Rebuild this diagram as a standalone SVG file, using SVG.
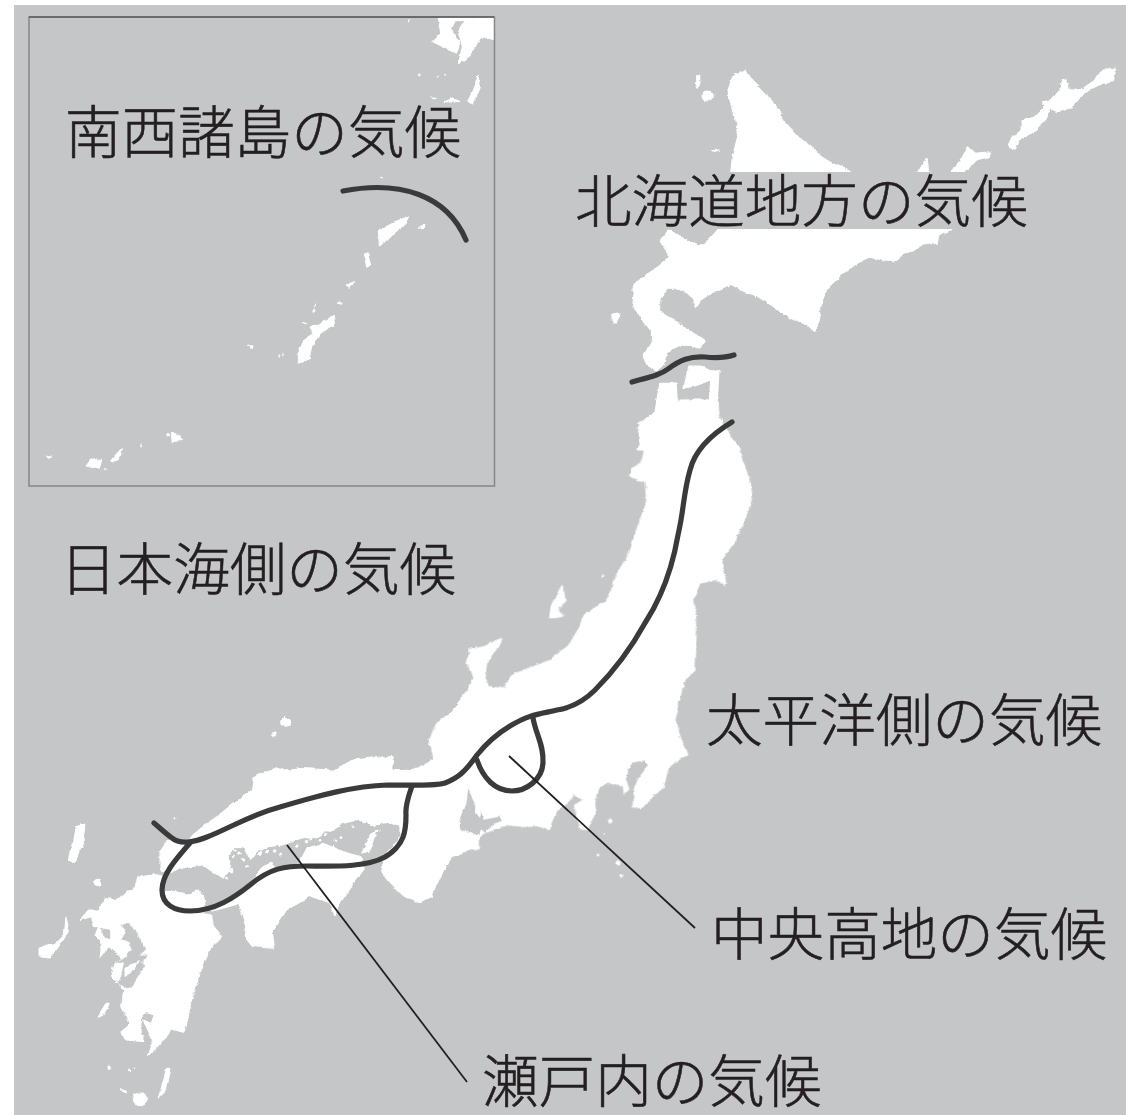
<svg xmlns="http://www.w3.org/2000/svg" width="1126" height="1115" viewBox="0 0 1126 1115">
<style>
.land{fill:#fff;stroke:#fff;stroke-width:3;stroke-linejoin:round}
.land .sea{fill:#c5c6c8;stroke:#c5c6c8;stroke-width:1}
.bold{fill:none;stroke:#3a3a3a;stroke-width:5.2;stroke-linecap:round;stroke-linejoin:round}
.lead{fill:none;stroke:#231f20;stroke-width:1.8}
text{font-family:"Noto Sans CJK JP","Noto Sans",sans-serif;font-size:56.6px;font-weight:300;fill:#231f20;stroke:#231f20;stroke-width:.55}
</style>
<defs>
<clipPath id="ic"><rect x="29" y="17" width="465.5" height="469"/></clipPath>
<filter id="coast" filterUnits="userSpaceOnUse" x="0" y="0" width="1126" height="1115">
<feTurbulence type="fractalNoise" baseFrequency="0.045" numOctaves="2" seed="4" result="low"/>
<feDisplacementMap in="SourceGraphic" in2="low" scale="5" xChannelSelector="R" yChannelSelector="G" result="a"/>
<feTurbulence type="fractalNoise" baseFrequency="0.28" numOctaves="2" seed="9" result="hi"/>
<feDisplacementMap in="a" in2="hi" scale="2.6" xChannelSelector="G" yChannelSelector="R" result="b"/>
<feGaussianBlur in="b" stdDeviation="0.55"/>
</filter>
</defs>
<rect width="1126" height="1115" fill="#fff"/>
<rect x="14" y="5" width="1112" height="1110" fill="#c5c6c8"/>
<g id="inset-map" clip-path="url(#ic)"><g filter="url(#coast)"><g transform="translate(20,0) scale(.3333)" class="land">
<polygon points="1255,50 1430,50 1430,122 1385,108 1372,130 1350,165 1315,192 1328,140 1315,95 1335,62 1305,62 1292,88 1320,128 1308,160 1275,145 1235,125 1262,100"/>
<polygon points="1375,225 1378,260 1355,312 1345,305 1360,260"/>
<polygon points="1272,305 1295,295 1320,308"/><polygon points="1232,288 1252,295 1240,297"/>
<circle cx="1198" cy="222" r="3"/><circle cx="1255" cy="230" r="2"/><circle cx="1275" cy="228" r="2"/><polygon points="1162,70 1172,58 1168,70"/>
<polygon points="1075,690 1125,665 1165,650 1160,670 1125,695 1095,725 1078,738"/>
<polygon points="1198,688 1212,672 1210,685"/>
<polygon points="1033,762 1045,758 1055,795 1040,802"/>
<polygon points="975,855 1005,845 985,862"/>
<circle cx="958" cy="910" r="5"/><polygon points="880,920 888,908 885,920"/><circle cx="882" cy="932" r="3"/>
<polygon points="940,945 943,975 905,1000 890,1020 875,1040 868,1075 835,1087 835,1050 850,1020 880,1000 870,985 900,975"/>
<polygon points="850,968 865,970 860,974"/>
<polygon points="688,1032 702,1038 700,1046"/>
<circle cx="775" cy="1067" r="2"/><circle cx="788" cy="1065" r="2"/>
<polygon points="437,1303 445,1300 450,1306 443,1308"/><polygon points="455,1296 485,1322 456,1325"/>
<circle cx="365" cy="1335" r="3"/><polygon points="80,1367 95,1368 85,1372"/>
<polygon points="308,1345 297,1380 270,1388 285,1370"/>
<polygon points="215,1376 245,1385 238,1408 198,1398"/>
<circle cx="255" cy="1408" r="2"/>
<circle cx="1083" cy="533" r="1.5"/>
</g></g></g>
<rect x="29" y="17" width="465.5" height="469" fill="none" stroke="#85868a" stroke-width="1.5"/>
<line x1="29" y1="17" x2="494" y2="17" stroke="#3f3f40" stroke-width="1.2"/>

<g id="map" filter="url(#coast)">
<g transform="translate(600,50) scale(.3355,.3333)" class="land">
<polygon id="hokkaido" points="395,80 430,62 445,85 480,120 530,175 550,215 600,270 660,320 700,345 750,366 850,390 945,366 975,325 980,366 985,420 1000,480 1040,537 1010,555 1005,580 960,585 935,605 900,615 880,632 845,630 800,622 770,635 720,670 680,710 655,770 655,810 640,848 615,825 560,795 510,770 460,735 430,725 390,703 340,725 300,750 285,772 275,745 240,715 200,715 178,750 178,785 210,805 250,825 275,850 315,875 300,895 240,885 200,905 190,945 165,965 140,950 128,915 150,875 150,840 120,800 95,770 100,700 155,665 210,620 180,570 205,540 260,570 310,585 350,540 390,366 395,320 410,260 405,210 378,130"/>
<polygon points="285,78 297,75 298,100 292,115 285,100"/><circle cx="322" cy="138" r="15"/>
<polygon points="38,793 58,788 48,823 40,820"/>
<polygon points="335,305 355,303 345,307"/>
<polygon id="kunashiri" points="1020,537 1050,366 1095,290 1120,310 1165,305 1160,320 1120,330 1085,365 1045,537"/>
<polygon id="etorofu" points="1320,155 1345,150 1375,115 1378,85 1392,88 1395,118 1440,115 1470,95 1490,65 1510,53 1537,58 1530,95 1500,100 1445,125 1405,170 1370,188 1340,172 1335,205 1290,245 1255,265 1235,300 1217,295 1232,262 1255,240 1255,215 1290,205 1320,175"/>
<polygon id="tohoku-n" points="265,945 300,945 330,965 355,965 350,1050 345,1100 370,1130 415,1200 300,1200 110,1200 120,1180 110,1130 160,1090 170,1030 180,1000 210,1000 230,1000 235,1075 260,1075 275,1050 300,1075 325,1060 330,990 275,1010 250,1015"/>
</g>
<g transform="translate(400,400) scale(.3333)" class="land">
<polygon id="honshu-e" points="785,0 770,40 715,70 720,100 735,140 725,190 690,210 690,230 735,245 740,300 725,350 700,420 680,470 650,520 640,560 620,600 560,640 540,680 510,730 450,780 400,800 330,825 315,860 265,860 255,830 260,790 300,735 305,715 260,735 215,745 200,785 215,830 205,870 160,935 110,970 85,1020 100,1080 40,1110 0,1110 0,1420 120,1420 130,1400 150,1375 200,1355 235,1350 235,1310 255,1295 320,1275 380,1280 420,1277 445,1290 470,1230 505,1205 525,1185 550,1200 520,1215 530,1255 545,1285 565,1285 570,1269 591,1230 585,1200 594,1164 630,1149 666,1155 669,1179 684,1170 675,1140 696,1086 735,1080 744,1095 711,1140 699,1170 705,1194 696,1221 726,1224 756,1191 789,1170 804,1104 840,1074 864,1065 825,960 855,840 885,810 890,670 878,600 900,550 945,540 975,560 965,480 1000,430 1030,380 1055,310 1045,220 1015,150 990,100 955,50 950,0"/>
<polygon points="490,555 495,600 470,625 490,645 445,655 450,620 470,590"/>
<polygon points="605,530 612,522 610,530"/>
<circle cx="633" cy="1263" r="6"/><circle cx="654" cy="1389" r="6"/><circle cx="666" cy="1428" r="4"/><circle cx="594" cy="1362" r="3"/><circle cx="612" cy="1305" r="1.5"/>
</g>
<g transform="translate(20,700) scale(.3333)" class="land">
<polygon id="honshu-w" points="1325,0 1400,0 1400,300 1440,300 1440,385 1385,385 1375,420 1290,470 1270,520 1235,590 1200,605 1150,590 1100,540 1085,510 1100,455 1120,435 1145,400 1140,375 1110,370 1060,375 1020,358 970,370 940,390 910,390 900,405 840,415 790,435 750,440 710,455 690,480 670,440 645,440 625,470 630,510 610,535 550,495 480,505 445,520 420,510 420,455 440,425 505,420 520,400 590,350 640,310 695,265 700,230 770,200 800,210 830,205 940,210 1000,180 1090,170 1120,170 1115,205 1195,210 1245,170 1230,130 1240,95"/>
<polygon points="1075,390 1052,402 1022,460 1045,452"/>
<polygon id="shikoku" points="1025,495 1020,470 960,450 910,430 860,445 835,495 765,505 760,485 720,505 700,535 640,590 590,615 530,635 590,630 655,612 672,650 680,680 675,710 700,740 760,745 755,700 800,630 870,590 925,610 945,645 960,610 1000,550 1030,510"/>
<circle cx="800" cy="67" r="15"/><circle cx="762" cy="101" r="7"/><circle cx="460" cy="355" r="2"/>
<polygon points="165,385 195,372 190,420 165,485 148,480"/>
<g>
<circle cx="660" cy="460" r="4"/><circle cx="670" cy="480" r="4"/><circle cx="640" cy="470" r="3"/><circle cx="650" cy="450" r="3"/><circle cx="680" cy="500" r="3"/><circle cx="635" cy="515" r="4"/><circle cx="620" cy="535" r="3"/><circle cx="720" cy="462" r="4"/><circle cx="745" cy="455" r="4"/><circle cx="770" cy="450" r="4"/><circle cx="785" cy="462" r="3"/><circle cx="830" cy="438" r="4"/><circle cx="860" cy="425" r="4"/><circle cx="900" cy="418" r="3"/><circle cx="915" cy="400" r="4"/><circle cx="960" cy="410" r="3"/><circle cx="945" cy="420" r="3"/><circle cx="1000" cy="378" r="2"/><circle cx="870" cy="415" r="3"/>
</g>
</g>
<g transform="translate(400,400) scale(.3333)" class="land">
<polygon class="sea" id="ise-bay" points="180,1265 200,1210 205,1170 225,1210 225,1235 240,1255 245,1230 250,1260 300,1250 305,1265 270,1280 255,1295 240,1285 230,1305 180,1285"/>
</g>
<g transform="translate(30,860) scale(.3333)" class="land">
<polygon id="kyushu" points="320,50 370,40 395,45 395,100 420,95 470,105 500,90 520,100 525,130 510,160 545,165 550,200 575,230 545,260 525,300 510,340 490,400 480,440 465,520 420,510 410,530 355,590 370,540 350,500 340,480 365,490 372,465 350,458 335,475 330,510 345,545 285,540 270,515 300,490 275,440 280,395 265,370 245,350 255,310 275,295 250,270 235,265 210,295 215,260 195,230 205,200 190,200 185,170 150,180 175,150 205,150 225,115 255,125 290,95 310,90"/>
<polygon class="sea" points="275,195 300,190 320,220 345,270 325,290 350,290 330,310 345,315 310,370 295,385 265,370 250,350 255,310 285,290 305,270 300,250 275,235 290,210"/>
<polygon class="sea" points="210,205 240,210 240,240 218,232"/>
<polygon points="255,312 280,305 272,350 262,362 248,350"/><polygon points="285,322 325,305 310,330 285,350"/>
<polygon id="goto" points="30,265 50,255 70,255 100,225 105,170 115,215 100,240 75,275 60,295 30,290"/>
<polygon points="200,470 225,430 235,430 220,460"/>
<circle cx="203" cy="66" r="11"/>
</g>
<g transform="translate(0,1030) scale(.3333)" class="land">
<ellipse cx="421" cy="205" rx="21" ry="19"/>
<polygon points="500,115 510,115 495,185 475,205 485,170"/>
<circle cx="327" cy="112" r="4"/><circle cx="385" cy="120" r="3"/><circle cx="405" cy="115" r="2"/><polygon points="360,176 380,185 375,188"/>
</g>
</g>
<rect id="label-band" x="570" y="172" width="470" height="57" fill="#c5c6c8"/>

<g id="connectors">
<path class="bold" d="M343,191 C400,180 447,195 466,240"/>
<path class="bold" d="M632,382 C650,377 660,375 668,369 C680,360 690,356 705,357 C715,358 725,358 734,355"/>
<path class="bold" d="M732,422 C712,434 695,450 690,470 C683,495 684,510 678,535 C672,570 660,600 645,623 C630,650 610,675 595,690 C582,703 570,708 557,710 C540,714 530,714 510,726 C495,735 485,745 477,755 C465,772 458,778 445,783 C435,786 420,785 387,785 C355,786 320,795 280,807 C250,815 230,828 207,837 C195,842 180,845 172,838 C165,833 160,828 154,823"/>
<path class="bold" d="M190,843 C175,860 162,875 162,890 C162,905 175,911 190,911 C215,911 235,897 250,885 C270,868 285,866 307,866 C330,866 365,868 385,857 C405,845 406,830 406,815 C405,805 409,795 412,786"/>
<path class="bold" d="M533,718 C536,735 544,745 543,763 C542,780 526,791 512,791 C495,791 483,778 477,760"/>
<line class="lead" x1="509" y1="756" x2="695" y2="928"/>
<line class="lead" x1="287" y1="845" x2="467" y2="1082"/>
</g>
<g id="labels">
<text id="l1" x="65" y="153">南西諸島の気候</text>
<text id="l2" x="575" y="222">北海道地方の気候</text>
<text id="l3" x="60" y="590">日本海側の気候</text>
<text id="l4" x="706" y="741">太平洋側の気候</text>
<text id="l5" x="711" y="955">中央高地の気候</text>
<text id="l6" x="482" y="1102">瀬戸内の気候</text>
</g>
</svg>
